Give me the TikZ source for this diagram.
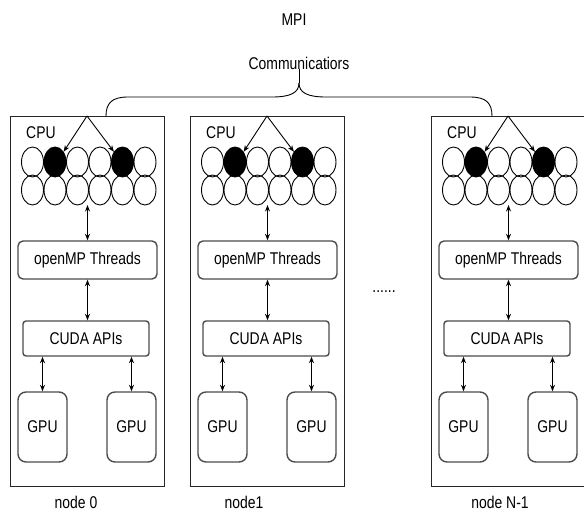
\documentclass[tikz,border=0pt]{standalone}
\usepackage{fontspec}
\setmainfont{Liberation Sans}[FakeStretch=0.82]
\usetikzlibrary{arrows.meta,shapes.geometric}
\begin{document}
\begin{tikzpicture}[x=1pt,y=-1pt,
  every node/.style={font=\fontsize{17}{20}\selectfont},
  nodebox/.style={draw=black!85, line width=1.1pt, inner sep=0pt, minimum width=154pt, minimum height=370pt, anchor=north west},
  rbox/.style={draw=black!70, line width=1.4pt, rounded corners=5pt, inner sep=0pt},
  gbox/.style={draw=black!70, line width=1.4pt, rounded corners=8pt, inner sep=0pt, minimum width=49pt, minimum height=70pt},
  core/.style={draw=black, line width=0.9pt, ellipse, minimum width=22pt, minimum height=30pt, inner sep=0pt},
  busy/.style={core, fill=black},
  link/.style={line width=1pt, {Stealth[length=6.5pt,width=5pt]}-{Stealth[length=6.5pt,width=5pt]}},
  pick/.style={line width=0.9pt, -{Stealth[length=6.5pt,width=5pt]}},
  brace/.style={line width=0.9pt},
  lbl/.style={inner sep=0pt}]
\useasboundingbox (0,0) rectangle (584,511);
\clip (0,0) rectangle (584,511);

\node[lbl] (mpi) at (294,20) {MPI};
\node[lbl] (comm) at (299,63) {Communicatiors};

\foreach \dx/\n/\lab/\lx in {0/a/node 0/76, 180/b/node1/244, 421/c/node N-1/500} {
  \node[nodebox] (box\n) at (\dx+10,116) {};
  \node[lbl, anchor=west] (cpu\n) at (\dx+26,133) {CPU};
  \foreach \i/\s in {0/core,1/busy,2/core,3/core,4/busy,5/core} {
    \node[\s] (r1\n\i) at (\dx+32.5+22.5*\i,162) {};
  }
  \foreach \i in {0,...,5} {
    \node[core] (r2\n\i) at (\dx+32.5+22.5*\i,190) {};
  }
  \coordinate (apex\n) at (\dx+87,116);
  \draw[pick] (apex\n) -- (r1\n1.50);
  \draw[pick] (apex\n) -- (r1\n4.130);
  \node[rbox, minimum width=139pt, minimum height=38pt] (omp\n) at (\dx+87.5,260) {openMP Threads};
  \node[rbox, rounded corners=3pt, minimum width=126pt, minimum height=35pt] (cuda\n) at (\dx+86,338.5) {CUDA APIs};
  \node[gbox] (gl\n) at (\dx+42.5,427) {GPU};
  \node[gbox] (gr\n) at (\dx+131.5,427) {GPU};
  \coordinate (cb\n) at (\dx+87.5,205);
  \draw[link] (cb\n) -- (omp\n.north);
  \draw[link] (omp\n.south) -- (omp\n.south |- cuda\n.north);
  \draw[link] (cuda\n.south -| gl\n.north) -- (gl\n.north);
  \draw[link] (cuda\n.south -| gr\n.north) -- (gr\n.north);
  \node[lbl] (lab\n) at (\lx,502) {\lab};
}

\node[lbl] (dots) at (384,292) {......};

\coordinate (tip) at (299,83);
\coordinate (ja) at (106,116);
\coordinate (jc) at (492,116);
\draw[brace] (comm.south) -- (tip);
\draw[brace] (tip) .. controls (299,93) and (290,97) .. (272,97) -- (128,97) .. controls (112,97) and (106,103) .. (ja);
\draw[brace] (tip) .. controls (299,93) and (308,97) .. (326,97) -- (470,97) .. controls (486,97) and (492,103) .. (jc);
\end{tikzpicture}
\end{document}
